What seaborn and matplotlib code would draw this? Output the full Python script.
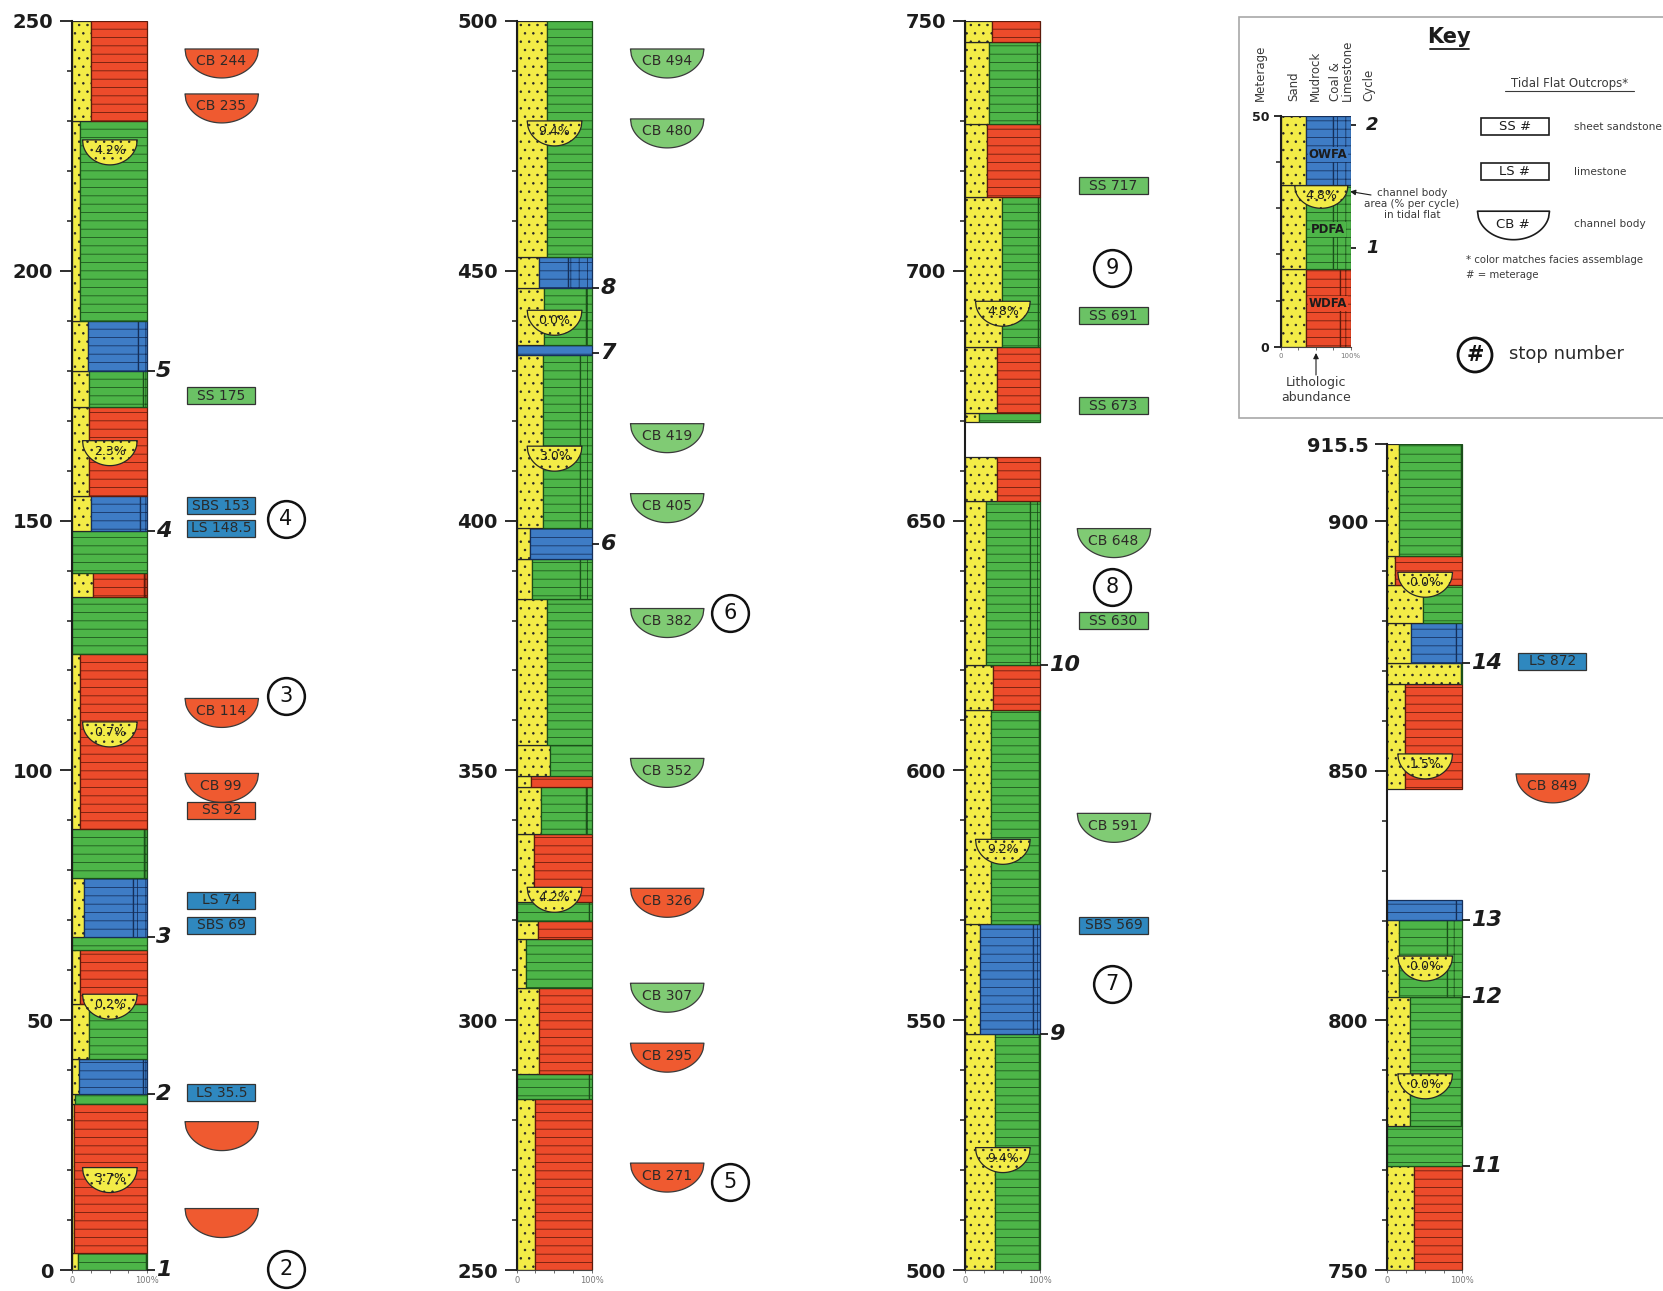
import numpy as np
import matplotlib
matplotlib.use("Agg")
import matplotlib.pyplot as plt
import seaborn as sns
from matplotlib.patches import Rectangle, Circle
from matplotlib.lines import Line2D

sns.set_style("ticks")
plt.rcParams["font.family"] = ["DejaVu Sans"]
plt.rcParams["hatch.linewidth"] = 0.55

# ---------------- palette ----------------
FILL = {"R": "#ec4b2b", "G": "#4db548", "B": "#3e7cc5"}
EDGE = {"R": "#5e1a0b", "G": "#1b4f1a", "B": "#152f5a"}
SAND = "#f3ec47"
SAND_EDGE = "#262626"
CB_FILL = {"R": "#ef5a30", "G": "#80cb74"}
BOX_FILL = {"R": "#ef5a30", "G": "#6bc265", "B": "#2f88bf"}
INK = "#1c1c1c"

# ---------------- section 1 : 0-250 m ----------------
s1_base = [0, 3.4, 33.2, 35.3, 42.2, 53.2, 64, 66.75, 78.4, 88.2, 123.3, 134.8,
           139.5, 148, 155, 172.7, 180, 190, 230]
s1_top = [3.4, 33.2, 35.3, 42.2, 53.2, 64, 66.75, 78.4, 88.2, 123.3, 134.8, 139.5,
          148, 155, 172.7, 180, 190, 230, 250]
s1_sand = [7.5, 3, 4, 9, 22, 11, 0, 15.5, 0, 11, 0, 28, 0, 25, 22, 23, 21, 10, 25]
s1_mud = [99, 100, 100, 95, 100, 100, 100, 81, 96, 100, 100, 96, 100, 90, 100, 95, 88, 100, 100]
s1_fac = list("GRGBGRGBGRGRGBRGBGR")
s1_ch_top = [20.5, 55.2, 109.7, 166.0, 226.2]
s1_ch_pct = [3.7, 0.2, 0.7, 2.3, 4.2]
s1_out_kind = ["CB", "CB", "SS", "SBS", "LS", "CB", "CB", "SS", "LS", "SBS", "LS", "CB", "CB"]
s1_out_m = [244, 235, 175, 153, 148.5, 114, 99, 92, 74, 69, 35.5, 29.3, 11.9]
s1_out_fac = ["R", "R", "G", "B", "B", "R", "R", "R", "B", "B", "B", "R", "R"]
s1_out_text = ["CB 244", "CB 235", "SS 175", "SBS 153", "LS 148.5", "CB 114", "CB 99",
               "SS 92", "LS 74", "SBS 69", "LS 35.5", "", ""]
s1_stop_no = [2, 3, 4]
s1_stop_m = [0.3, 114.9, 150.4]
s1_cycle_no = [1, 2, 3, 4, 5]
s1_cycle_m = [0, 35.3, 66.7, 148, 180]

# ---------------- section 2 : 250-500 m ----------------
s2_base = [250, 284.25, 289.25, 306.5, 316.3, 319.9, 323.7, 337.2, 346.75, 348.8,
           355.1, 384.4, 392.3, 398.5, 433.1, 435.2, 446.6, 452.8]
s2_top = [284.25, 289.25, 306.5, 316.3, 319.9, 323.7, 337.2, 346.75, 348.8, 355.1,
          384.4, 392.3, 398.5, 433.1, 435.2, 446.6, 452.8, 500]
s2_sand = [25, 0, 30, 12, 29, 0, 23, 32, 19, 44, 40, 20, 18, 35, 0, 37, 30, 41]
s2_mud = [100, 97, 100, 100, 100, 96, 100, 93, 100, 100, 100, 84, 100, 84, 100, 92, 68, 100]
s2_fac = list("RGRGRGRGRGGGBGBGBG")
s2_ch_top = [326.6, 414.9, 442.1, 480.0]
s2_ch_pct = [4.2, 3.0, 0.0, 9.4]
s2_out_kind = ["CB"] * 10
s2_out_m = [494, 480, 419, 405, 382, 352, 326, 307, 295, 271]
s2_out_fac = ["G", "G", "G", "G", "G", "G", "R", "G", "R", "R"]
s2_out_text = ["CB 494", "CB 480", "CB 419", "CB 405", "CB 382", "CB 352", "CB 326",
               "CB 307", "CB 295", "CB 271"]
s2_stop_no = [5, 6]
s2_stop_m = [267.6, 381.5]
s2_cycle_no = [6, 7, 8]
s2_cycle_m = [395.4, 433.6, 446.6]

# ---------------- section 3 : 500-750 m ----------------
s3_base = [500, 547.2, 569.25, 612, 621.1, 654, 669.8, 671.5, 684.7, 714.8, 729.4, 745.8]
s3_top = [547.2, 569.25, 612, 621.1, 654, 662.8, 671.5, 684.7, 714.8, 729.4, 745.8, 750]
s3_sand = [40, 20, 34, 37, 28, 42, 19, 42, 49, 29, 32, 36]
s3_mud = [99, 90, 99, 100, 86, 100, 100, 100, 97, 100, 96, 100]
s3_fac = list("GBGRGRGRGRGR")
s3_ch_top = [524.5, 586.2, 693.9]
s3_ch_pct = [9.4, 9.2, 4.8]
s3_out_kind = ["SS", "SS", "SS", "CB", "SS", "CB", "SBS"]
s3_out_m = [717, 691, 673, 648, 630, 591, 569]
s3_out_fac = ["G", "G", "G", "G", "G", "G", "B"]
s3_out_text = ["SS 717", "SS 691", "SS 673", "CB 648", "SS 630", "CB 591", "SBS 569"]
s3_stop_no = [7, 8, 9]
s3_stop_m = [557.3, 636.7, 700.5]
s3_cycle_no = [9, 10]
s3_cycle_m = [547.2, 621.1]

# ---------------- section 4 : 750-915.5 m ----------------
s4_base = [750, 770.8, 778.9, 804.6, 820.2, 846.3, 867.5, 871.6, 879.6, 887.3, 893.1]
s4_top = [770.8, 778.9, 804.6, 820.2, 824.2, 867.5, 871.6, 879.6, 887.3, 893.1, 915.5]
s4_sand = [36, 0, 30, 16, 0, 24, 98, 31, 48, 10, 15]
s4_mud = [100, 100, 98, 80, 91, 100, 100, 92, 100, 100, 98]
s4_fac = list("RGGGBRGBGRG")
s4_ch_top = [789.3, 812.9, 853.4, 889.8]
s4_ch_pct = [0.0, 0.0, 1.5, 0.0]
s4_out_kind = ["LS", "CB"]
s4_out_m = [872, 849]
s4_out_fac = ["B", "R"]
s4_out_text = ["LS 872", "CB 849"]
s4_cycle_no = [11, 12, 13, 14]
s4_cycle_m = [770.8, 804.6, 820.2, 871.6]

# ---------------- key column ----------------
key_base = [0, 16.8, 35]
key_top = [16.8, 35, 50]
key_sand = [36, 36, 36]
key_mud = [84, 75, 75]
key_fac = ["R", "G", "B"]
key_names = ["WDFA", "PDFA", "OWFA"]
key_name_m = [9.4, 25.4, 41.7]
key_ch_top = [34.9]
key_ch_pct = [4.8]
key_cycle_no = [1, 2]
key_cycle_m = [21.3, 48]

# ---------------- figure ----------------
W, H, DPI = 1663, 1291, 100
fig = plt.figure(figsize=(W / DPI, H / DPI), dpi=DPI)
fig.patch.set_facecolor("white")


def px_axes(x0, y0, x1, y1):
    """Axes placed by a pixel box measured from the top-left corner."""
    ax = fig.add_axes([x0 / W, 1 - y1 / H, (x1 - x0) / W, (y1 - y0) / H])
    ax.set_facecolor("none")
    return ax


def bowl(ax, top, x0, x1, depth, n=80, **kw):
    x = np.linspace(x0, x1, n)
    c, a = (x0 + x1) / 2, (x1 - x0) / 2
    y = top - depth * np.sqrt(np.clip(1 - ((x - c) / a) ** 2, 0, None))
    return ax.fill_between(x, y, top, **kw)


def draw_column(ax, base, top, sand, mud, fac):
    for b, t, s, m, f in zip(base, top, sand, mud, fac):
        h = t - b
        if s > 0:
            ax.barh(b, s, height=h, left=0, align="edge", color=SAND,
                    edgecolor=SAND_EDGE, hatch="..", linewidth=0.9, zorder=2)
        if m > s:
            ax.barh(b, m - s, height=h, left=s, align="edge", color=FILL[f],
                    edgecolor=EDGE[f], hatch="--", linewidth=0.9, zorder=2)
        if m < 100:
            ax.barh(b, 100 - m, height=h, left=m, align="edge", color=FILL[f],
                    edgecolor=EDGE[f], hatch="++", linewidth=0.9, zorder=2)


def draw_channels(ax, tops, pcts, x0=14, x1=87, depth=5.0, fs=9):
    for t, p in zip(tops, pcts):
        bowl(ax, t, x0, x1, depth, color=SAND, edgecolor=SAND_EDGE,
             hatch="..", linewidth=0.9, zorder=3)
        ax.text((x0 + x1) / 2, t - depth * 0.42, f"{p:.1f}%", ha="center",
                va="center", fontsize=fs, color=INK, zorder=4)


def draw_outcrops(ax, kinds, meters, facs, texts, xc):
    for k, v, f, lab in zip(kinds, meters, facs, texts):
        if k == "CB":
            bowl(ax, v + 0.5, xc - 49, xc + 49, 5.8, color=CB_FILL[f],
                 edgecolor="#3a3a3a", linewidth=0.9, zorder=3)
            if lab:
                ax.text(xc, v - 2.1, lab, ha="center", va="center",
                        fontsize=10, color="#2e2a28", zorder=4)
        else:
            ax.barh(v, 91, height=3.4, left=xc - 45.5, align="center",
                    color=BOX_FILL[f], edgecolor="#333333", linewidth=0.9, zorder=3)
            ax.text(xc, v, lab, ha="center", va="center", fontsize=10,
                    color="#2a2a2a", zorder=4)


def draw_stops(ax, nums, meters, x):
    ax.scatter([x] * len(meters), meters, s=700, facecolor="white",
               edgecolor="#111111", linewidth=1.8, zorder=4, clip_on=False)
    for n, v in zip(nums, meters):
        ax.text(x, v, str(n), ha="center", va="center", fontsize=15,
                color="#111111", zorder=5, clip_on=False)


def draw_cycles(ax, nums, meters, fs=16, tick=10, gap=2):
    for n, v in zip(nums, meters):
        ax.plot([100, 100 + tick], [v, v], color=INK, lw=1.3, zorder=4,
                clip_on=False, solid_capstyle="butt")
        ax.text(100 + tick + gap, v, str(n), ha="left", va="center",
                fontsize=fs, fontweight="bold", fontstyle="italic",
                color=INK, zorder=5, clip_on=False)


def style_axis(ax, lo, hi, major, minor, labels, xmax=300, fs=14,
               maj_len=8.6, min_len=3.6, pad=5):
    ax.set_xlim(0, xmax)
    ax.set_ylim(lo, hi)
    for side in ("top", "right"):
        ax.spines[side].set_visible(False)
    ax.spines["left"].set_linewidth(1.5)
    ax.spines["left"].set_color(INK)
    ax.spines["bottom"].set_bounds(0, 100)
    ax.spines["bottom"].set_linewidth(0.8)
    ax.spines["bottom"].set_color("#444444")
    ax.set_yticks(major)
    ax.set_yticklabels(labels, fontsize=fs, fontweight="bold", color=INK)
    ax.set_yticks(minor, minor=True)
    ax.tick_params(axis="y", which="major", direction="out", length=maj_len,
                   width=1.3, color=INK, pad=pad)
    ax.tick_params(axis="y", which="minor", direction="out", length=min_len,
                   width=1.1, color=INK)
    ax.set_xticks([0, 25, 50, 75, 100])
    ax.set_xticklabels(["0", "", "", "", "100%"], fontsize=6, color="#777777")
    ax.tick_params(axis="x", direction="out", length=2.5, width=0.6,
                   color="#555555", pad=2)
    ax.grid(False)


# ---------------- key frame and text layer ----------------
ov = fig.add_axes([0, 0, 1, 1])
ov.set_xlim(0, W)
ov.set_ylim(H, 0)
ov.axis("off")
ov.add_patch(Rectangle((1239, 17), 520, 401, facecolor="white",
                       edgecolor="#a8a8a8", linewidth=1.2))
ov.text(1449, 37, "Key", ha="center", va="center", fontsize=15,
        fontweight="bold", color=INK)
ov.add_line(Line2D([1430, 1469], [49, 49], color=INK, lw=1.3))
for xh, txt in [(1260, "Meterage"), (1294, "Sand"), (1315, "Mudrock"),
                (1341.5, "Coal &\nLimestone"), (1369, "Cycle")]:
    ov.text(xh, 101, txt, rotation=90, ha="center", va="bottom", fontsize=8.5,
            color="#3a3a3a", multialignment="left", linespacing=0.95)
ov.text(1412, 204, "channel body\narea (% per cycle)\nin tidal flat",
        ha="center", va="center", fontsize=7.5, color="#3a3a3a", linespacing=1.15)
ov.annotate("", xy=(1350, 191.5), xytext=(1371, 195),
            arrowprops=dict(arrowstyle="-|>", color=INK, lw=0.8,
                            mutation_scale=8, shrinkA=0, shrinkB=0))
ov.text(1316, 390, "Lithologic\nabundance", ha="center", va="center",
        fontsize=9, color="#3a3a3a", linespacing=1.25)
ov.annotate("", xy=(1316, 353), xytext=(1316, 375),
            arrowprops=dict(arrowstyle="-|>", color=INK, lw=0.8,
                            mutation_scale=8, shrinkA=0, shrinkB=0))
ov.text(1569.5, 83, "Tidal Flat Outcrops*", ha="center", va="center",
        fontsize=8.5, color="#3a3a3a")
ov.add_line(Line2D([1505, 1634], [91, 91], color="#3a3a3a", lw=0.8))
ov.add_patch(Rectangle((1481, 118), 67.5, 17, facecolor="white",
                       edgecolor=INK, linewidth=1.2))
ov.text(1514.7, 126.5, "SS #", ha="center", va="center", fontsize=9.5, color=INK)
ov.text(1574, 127, "sheet sandstone", ha="left", va="center", fontsize=7.6,
        color="#3a3a3a")
ov.add_patch(Rectangle((1481, 163), 67.5, 17, facecolor="white",
                       edgecolor=INK, linewidth=1.2))
ov.text(1514.7, 171.5, "LS #", ha="center", va="center", fontsize=9.5, color=INK)
ov.text(1574, 172, "limestone", ha="left", va="center", fontsize=7.6,
        color="#3a3a3a")
bowl(ov, 210.7, 1477, 1549, -28.5, facecolor="white", edgecolor=INK, linewidth=1.2)
ov.text(1513, 225, "CB #", ha="center", va="center", fontsize=9.5, color=INK)
ov.text(1574, 224, "channel body", ha="left", va="center", fontsize=7.6,
        color="#3a3a3a")
ov.text(1466, 260, "* color matches facies assemblage", ha="left", va="center",
        fontsize=7.3, color="#3a3a3a")
ov.text(1466, 275, "# = meterage", ha="left", va="center", fontsize=7.3,
        color="#3a3a3a")
ov.add_patch(Circle((1475, 355), 17, facecolor="white", edgecolor="#111111",
                    linewidth=2))
ov.text(1475, 355, "#", ha="center", va="center", fontsize=15,
        fontweight="bold", color="#111111")
ov.text(1509, 354, "stop number", ha="left", va="center", fontsize=13,
        color="#2a2a2a")

# ---------------- key mini column ----------------
kax = px_axes(1280.7, 116, 1350.7, 346.7)
draw_column(kax, key_base, key_top, key_sand, key_mud, key_fac)
draw_channels(kax, key_ch_top, key_ch_pct, x0=20, x1=96, depth=4.9, fs=9)
for nm, m, f in zip(key_names, key_name_m, key_fac):
    kax.text(67.5, m, nm, ha="center", va="center", fontsize=8.5,
             fontweight="bold", color=INK, zorder=5,
             bbox=dict(facecolor=FILL[f], edgecolor="none", pad=0.6))
draw_cycles(kax, key_cycle_no, key_cycle_m, fs=13, tick=8, gap=14)
style_axis(kax, 0, 50, [0, 50], [10, 20, 30, 40], ["0", "50"], xmax=100,
           fs=9, maj_len=5, min_len=3.5, pad=3)
kax.tick_params(axis="x", labelsize=5)

# ---------------- the four measured sections ----------------
sections = [
    dict(x0=72.0, y0=21, y1=1270, lo=0, hi=250, base=s1_base, top=s1_top,
         sand=s1_sand, mud=s1_mud, fac=s1_fac, ch=(s1_ch_top, s1_ch_pct),
         out=(s1_out_kind, s1_out_m, s1_out_fac, s1_out_text), xc=199,
         stops=(s1_stop_no, s1_stop_m), stop_x=285,
         cyc=(s1_cycle_no, s1_cycle_m),
         major=[0, 50, 100, 150, 200, 250]),
    dict(x0=516.7, y0=21, y1=1270, lo=250, hi=500, base=s2_base, top=s2_top,
         sand=s2_sand, mud=s2_mud, fac=s2_fac, ch=(s2_ch_top, s2_ch_pct),
         out=(s2_out_kind, s2_out_m, s2_out_fac, s2_out_text), xc=200,
         stops=(s2_stop_no, s2_stop_m), stop_x=284,
         cyc=(s2_cycle_no, s2_cycle_m),
         major=[250, 300, 350, 400, 450, 500]),
    dict(x0=965.0, y0=21, y1=1270, lo=500, hi=750, base=s3_base, top=s3_top,
         sand=s3_sand, mud=s3_mud, fac=s3_fac, ch=(s3_ch_top, s3_ch_pct),
         out=(s3_out_kind, s3_out_m, s3_out_fac, s3_out_text), xc=198,
         stops=(s3_stop_no, s3_stop_m), stop_x=196,
         cyc=(s3_cycle_no, s3_cycle_m),
         major=[500, 550, 600, 650, 700, 750]),
    dict(x0=1387.3, y0=444, y1=1270, lo=750, hi=915.5, base=s4_base, top=s4_top,
         sand=s4_sand, mud=s4_mud, fac=s4_fac, ch=(s4_ch_top, s4_ch_pct),
         out=(s4_out_kind, s4_out_m, s4_out_fac, s4_out_text), xc=220,
         stops=None, stop_x=None,
         cyc=(s4_cycle_no, s4_cycle_m),
         major=[750, 800, 850, 900, 915.5]),
]

for sec in sections:
    ax = px_axes(sec["x0"], sec["y0"], sec["x0"] + 225, sec["y1"])
    draw_column(ax, sec["base"], sec["top"], sec["sand"], sec["mud"], sec["fac"])
    draw_channels(ax, *sec["ch"])
    draw_outcrops(ax, *sec["out"], xc=sec["xc"])
    if sec["stops"] is not None:
        draw_stops(ax, *sec["stops"], x=sec["stop_x"])
    draw_cycles(ax, *sec["cyc"])
    lo, hi = sec["lo"], sec["hi"]
    minor = [v for v in np.arange(lo, hi + 0.01, 10) if v not in sec["major"]]
    labels = [f"{v:g}" for v in sec["major"]]
    style_axis(ax, lo, hi, sec["major"], minor, labels)

fig.savefig("out.png", dpi=DPI, facecolor="white")
